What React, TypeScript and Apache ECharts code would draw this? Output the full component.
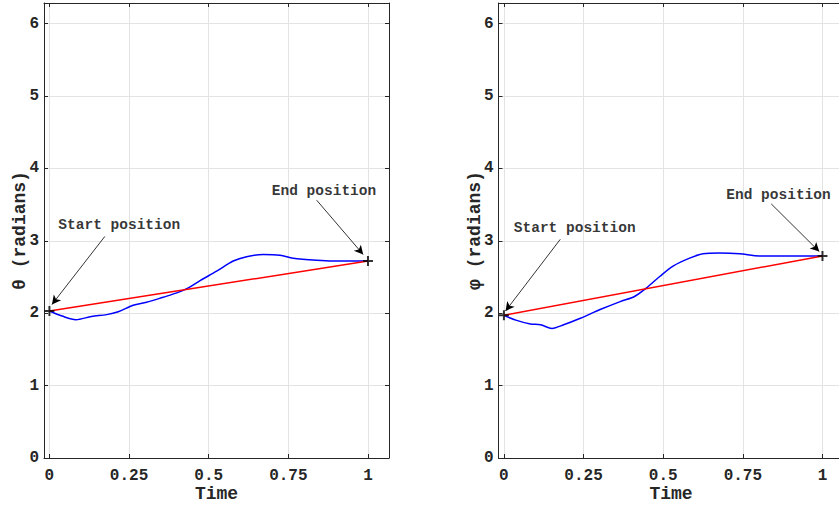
import React, { useEffect, useRef } from "react";
import * as echarts from "echarts";

// ---- data ----
const xTicks = [0, 0.25, 0.5, 0.75, 1];
const yTicks = [0, 1, 2, 3, 4, 5, 6];

const thetaTime = [0, 0.04, 0.083, 0.132, 0.18, 0.216, 0.263, 0.305, 0.357, 0.4, 0.436, 0.473, 0.525, 0.577, 0.619, 0.671, 0.724, 0.765, 0.839, 0.89, 1];
const thetaValue = [2.03, 1.96, 1.91, 1.955, 1.98, 2.02, 2.11, 2.15, 2.22, 2.28, 2.35, 2.45, 2.58, 2.72, 2.78, 2.81, 2.8, 2.76, 2.73, 2.72, 2.72];
const thetaStartEnd = [2.03, 2.72];

const phiTime = [0, 0.04, 0.083, 0.115, 0.151, 0.1875, 0.24, 0.302, 0.365, 0.41, 0.448, 0.49, 0.531, 0.583, 0.625, 0.677, 0.74, 0.802, 0.9, 1];
const phiValue = [1.97, 1.9, 1.85, 1.84, 1.79, 1.84, 1.93, 2.05, 2.16, 2.23, 2.35, 2.51, 2.65, 2.76, 2.82, 2.83, 2.82, 2.79, 2.79, 2.79];
const phiStartEnd = [1.97, 2.79];

const annotationTexts = ["Start position", "End position"];
// annotation anchors in data coordinates: [textX, textY, tailX, tailY, headX, headY]
const thetaStartNote = [0.028, 3.24, 0.174, 3.06, 0.008, 2.12];
const thetaEndNote = [0.698, 3.71, 0.839, 3.56, 0.985, 2.81];
const phiStartNote = [0.031, 3.2, 0.177, 3.02, 0.005, 2.03];
const phiEndNote = [0.698, 3.66, 0.839, 3.51, 0.99, 2.85];

const X_MIN = -0.017;
const X_MAX = 1.066;
const Y_MAX = 2 * Math.PI;

const FONT = '"Liberation Mono", "DejaVu Sans Mono", monospace';
const AXIS_COLOR = "#262626";
const GRID_COLOR = "#e3e3e3";

function axesFor(gridIndex: number, yName: string) {
  const baseLine = { onZero: false, lineStyle: { color: AXIS_COLOR, width: 1 } };
  const xAxes = [
    {
      type: "value",
      gridIndex,
      position: "bottom",
      min: X_MIN,
      max: X_MAX,
      name: "Time",
      nameLocation: "middle",
      nameGap: 27,
      nameMoveOverlap: false,
      nameTextStyle: { fontFamily: FONT, fontWeight: "bold", fontSize: 18, color: AXIS_COLOR },
      axisLine: baseLine,
      axisTick: { inside: true, length: 4, customValues: xTicks, lineStyle: { color: AXIS_COLOR } },
      axisLabel: { customValues: xTicks, fontFamily: FONT, fontWeight: "bold", fontSize: 16, color: AXIS_COLOR, margin: 10 },
      splitLine: { show: true, lineStyle: { color: GRID_COLOR, width: 1 } },
    },
    {
      type: "value",
      gridIndex,
      position: "top",
      min: X_MIN,
      max: X_MAX,
      axisLine: baseLine,
      axisTick: { inside: true, length: 4, customValues: xTicks, lineStyle: { color: AXIS_COLOR } },
      axisLabel: { show: false },
      splitLine: { show: false },
    },
  ];
  const yAxes = [
    {
      type: "value",
      gridIndex,
      position: "left",
      min: 0,
      max: Y_MAX,
      name: yName,
      nameLocation: "middle",
      nameGap: 15,
      nameMoveOverlap: false,
      nameTextStyle: { fontFamily: FONT, fontWeight: "bold", fontSize: 18, color: AXIS_COLOR },
      axisLine: baseLine,
      axisTick: { inside: true, length: 4, customValues: yTicks, lineStyle: { color: AXIS_COLOR } },
      axisLabel: {
        customValues: yTicks,
        fontFamily: FONT,
        fontWeight: "bold",
        fontSize: 16,
        color: AXIS_COLOR,
        margin: 5,
      },
      splitLine: { show: true, lineStyle: { color: GRID_COLOR, width: 1 } },
    },
    {
      type: "value",
      gridIndex,
      position: "right",
      min: 0,
      max: Y_MAX,
      axisLine: baseLine,
      axisTick: { inside: true, length: 4, customValues: yTicks, lineStyle: { color: AXIS_COLOR } },
      axisLabel: { show: false },
      splitLine: { show: false },
    },
  ];
  return { xAxes, yAxes };
}

const PLUS = "path://M5,0L5,10M0,5L10,5";

function seriesFor(
  axisIndex: number,
  times: number[],
  values: number[],
  startEnd: number[],
  notes: number[][]
) {
  const common = { xAxisIndex: axisIndex, yAxisIndex: axisIndex, silent: true };
  return [
    {
      ...common,
      type: "line",
      data: times.map((t, i) => [t, values[i]]),
      showSymbol: false,
      smooth: 0.3,
      lineStyle: { color: "#0000ff", width: 1.5 },
      z: 3,
    },
    {
      ...common,
      type: "line",
      data: [
        [0, startEnd[0]],
        [1, startEnd[1]],
      ],
      showSymbol: false,
      lineStyle: { color: "#ff0000", width: 1.5 },
      z: 4,
    },
    {
      ...common,
      type: "scatter",
      data: [
        [0, startEnd[0]],
        [1, startEnd[1]],
      ],
      symbol: PLUS,
      symbolSize: 10,
      itemStyle: { color: "transparent", borderColor: "#000", borderWidth: 2 },
      z: 6,
    },
    {
      ...common,
      type: "scatter",
      data: notes.map((n, i) => ({ value: [n[0], n[1]], name: annotationTexts[i] })),
      symbolSize: 0,
      label: {
        show: true,
        position: "right",
        distance: 0,
        offset: [0, 2],
        formatter: (p: any) => p.name,
        fontFamily: FONT,
        fontWeight: "bold",
        fontSize: 14.5,
        color: "#000",
      },
      markLine: {
        silent: true,
        symbol: ["none", "arrow"],
        symbolSize: [7, 9],
        label: { show: false },
        lineStyle: { color: "#000", width: 0.8, type: "solid" },
        data: notes.map((n) => [{ coord: [n[2], n[3]] }, { coord: [n[4], n[5]] }]),
      },
      z: 5,
    },
  ];
}

export default function App() {
  const ref = useRef<HTMLDivElement>(null);
  useEffect(() => {
    if (!ref.current) return;
    document.body.style.margin = "0";
    const chart = echarts.init(ref.current, null, { renderer: "svg" });
    const left = axesFor(0, "θ (radians)");
    const right = axesFor(1, "φ (radians)");
    chart.setOption({
      animation: false,
      backgroundColor: "#ffffff",
      grid: [
        { left: 44, top: 3, width: 345, height: 455, outerBoundsMode: "none", containLabel: false },
        { left: 498.5, top: 3, width: 345, height: 455, outerBoundsMode: "none", containLabel: false },
      ],
      xAxis: [...left.xAxes, ...right.xAxes],
      yAxis: [...left.yAxes, ...right.yAxes],
      series: [
        ...seriesFor(0, thetaTime, thetaValue, thetaStartEnd, [thetaStartNote, thetaEndNote]),
        ...seriesFor(2, phiTime, phiValue, phiStartEnd, [phiStartNote, phiEndNote]),
      ],
    });
    return () => chart.dispose();
  }, []);
  return (
    <div
      ref={ref}
      style={{ position: "absolute", left: 0, top: 0, width: 839, height: 506 }}
    />
  );
}
